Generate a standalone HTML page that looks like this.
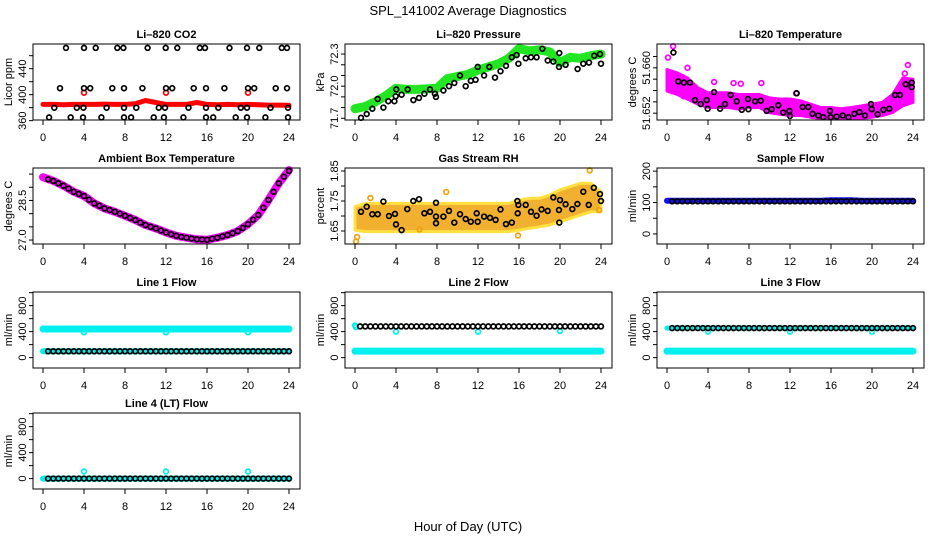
<!DOCTYPE html>
<html><head><meta charset="utf-8">
<style>
html,body{margin:0;padding:0;background:#fff;}
svg{display:block;font-family:"Liberation Sans",Arial,sans-serif;}
</style></head>
<body>
<svg id="chart" width="936" height="540" viewBox="0 0 936 540">
<text x="468" y="15" font-size="13" text-anchor="middle">SPL_141002  Average Diagnostics</text>
<text x="468" y="531" font-size="13" text-anchor="middle">Hour of Day (UTC)</text>
</svg>
<script>
// ---------- data ----------
const hourly = [0,1,2,3,4,5,6,7,8,9,10,11,12,13,14,15,16,17,18,19,20,21,22,23,24];
const halfHours = [0.5,1,1.5,2,2.5,3,3.5,4,4.5,5,5.5,6,6.5,7,7.5,8,8.5,9,9.5,10,10.5,11,11.5,12,12.5,13,13.5,14,14.5,15,15.5,16,16.5,17,17.5,18,18.5,19,19.5,20,20.5,21,21.5,22,22.5,23,23.5,24];
const xTicks = [0,4,8,12,16,20,24];

// CO2
const co2Red = [385,385,384.5,385,385,385,385.5,385,385,386,391,388,385,385,385,388,385,384.5,385,384.5,385,384.5,384,384,383.5];
const co2RedObsHours = [4,12,20];
const co2RedObsValues = [403,403,403];
const co2BlackHours = [2.24,4.0,5.14,7.25,7.84,10.2,11.97,13.1,15.3,15.8,18.2,19.9,21.1,23.3,23.8,
 1.66,4.0,4.6,6.76,7.9,9.7,12.0,12.6,14.7,15.9,17.7,20.0,20.6,22.7,23.8,
 1.1,3.3,3.94,6.2,7.9,9.1,11.3,11.9,14.2,15.9,17.1,19.3,19.9,22.2,23.9,
 0.6,2.7,3.9,5.7,7.9,8.6,10.8,11.8,13.7,15.9,16.6,18.8,19.9,21.7,23.9];
const co2BlackValues = [472,472,472,472,472,472,472,472,472,472,472,472,472,472,472,
 410,410,410,410,410,410,410,410,410,410,410,410,410,410,410,
 380,380,380,380,380,380,380,380,380,380,380,380,380,380,380,
 365,365,365,365,365,365,365,365,365,365,365,365,365,365,365];

// Pressure
const presGreen = [71.79,71.81,71.855,71.91,71.98,71.97,71.97,71.975,71.98,72.07,72.09,72.11,72.15,72.18,72.21,72.26,72.35,72.33,72.34,72.32,72.22,72.27,72.26,72.285,72.3];
const presObsHours = [0.59,1.14,1.69,2.21,2.77,3.25,3.84,3.97,4.03,4.55,5.14,5.7,6.24,6.77,7.32,7.8,7.9,8.62,9.17,9.69,10.24,10.8,11.3,11.77,11.97,12.6,13.1,13.66,14.2,14.73,15.3,15.77,15.94,16.65,17.17,17.72,18.28,18.8,19.35,19.9,19.93,20.55,21.72,22.27,22.83,23.35,23.9,24.0];
const presObsValues = [71.705,71.74,71.79,71.88,71.80,71.86,71.86,71.905,71.97,71.92,71.97,71.87,71.89,71.93,71.97,71.93,71.90,71.96,72.00,72.03,72.10,72.00,72.05,72.06,72.18,72.10,72.18,72.08,72.14,72.19,72.27,72.29,72.21,72.26,72.27,72.27,72.35,72.24,72.23,72.18,72.31,72.20,72.16,72.21,72.22,72.285,72.30,72.21];

// Li-820 temperature
const tempLo = [51.6559,51.6553,51.6545,51.6536,51.6530,51.6530,51.6530,51.6527,51.6530,51.6530,51.6521,51.6518,51.6516,51.6516,51.6513,51.6511,51.6511,51.6511,51.6511,51.6511,51.6513,51.6516,51.6521,51.6533,51.6539];
const tempHi = [51.6597,51.6591,51.6582,51.6565,51.6556,51.6556,51.6556,51.6553,51.6553,51.6553,51.6547,51.6545,51.6545,51.6542,51.6536,51.6530,51.6530,51.6528,51.6530,51.6533,51.6536,51.6539,51.6553,51.6582,51.6580];
const tempOutHours = [0.1,0.6,2.0,4.6,6.5,7.2,9.2,23.5,1.6,12.6,23.2,0.3];
const tempOutValues = [51.6618,51.6638,51.6600,51.6575,51.6573,51.6572,51.6573,51.6605,51.6550,51.6555,51.6590,51.6585];
const tempObsHours = [0.62,1.1,1.66,2.24,2.73,3.29,3.87,3.97,4.6,5.18,5.66,6.21,6.8,7.3,7.9,7.94,8.6,9.14,9.72,10.21,10.86,11.35,11.94,12.0,12.65,13.24,13.79,14.2,14.77,15.25,15.9,15.97,16.55,17.14,17.7,18.28,18.77,19.32,19.9,19.97,20.55,21.11,21.69,22.25,22.73,23.29,23.87,23.87];
const tempObsValues = [51.6627,51.6576,51.6574,51.6574,51.6543,51.6536,51.6543,51.6528,51.6557,51.6528,51.6536,51.6552,51.6541,51.6526,51.6545,51.6527,51.6541,51.6542,51.6524,51.6527,51.6534,51.6521,51.6524,51.6515,51.6555,51.6531,51.6531,51.6519,51.6516,51.6513,51.6524,51.6513,51.6514,51.6516,51.6513,51.6519,51.6522,51.6516,51.6536,51.6527,51.6518,51.6526,51.6528,51.6552,51.6552,51.6571,51.6574,51.6566];

// Ambient box temperature
const ambTrace = [29.38,29.24,29.06,28.83,28.67,28.39,28.20,28.07,27.92,27.76,27.57,27.44,27.29,27.16,27.09,27.03,27.01,27.09,27.19,27.34,27.60,27.95,28.52,29.15,29.65];
const ambObs = [29.30,29.24,29.15,29.06,28.95,28.83,28.75,28.67,28.53,28.39,28.30,28.20,28.14,28.07,28.00,27.92,27.84,27.76,27.66,27.57,27.50,27.44,27.36,27.29,27.22,27.16,27.12,27.09,27.06,27.03,27.02,27.01,27.05,27.09,27.14,27.19,27.26,27.34,27.46,27.60,27.77,27.95,28.22,28.52,28.83,29.15,29.40,29.62];

// Gas stream RH
const rhLo = [1.653,1.648,1.648,1.648,1.648,1.648,1.648,1.648,1.648,1.648,1.648,1.648,1.648,1.648,1.648,1.648,1.653,1.659,1.664,1.670,1.681,1.692,1.703,1.714,1.714];
const rhHi = [1.731,1.742,1.742,1.742,1.742,1.742,1.742,1.742,1.742,1.742,1.742,1.742,1.742,1.742,1.742,1.742,1.753,1.759,1.759,1.770,1.787,1.798,1.809,1.809,1.781];
const rhOutHours = [0.1,8.9,22.9,15.9,1.5,23.8,0.2,6.3];
const rhOutValues = [1.615,1.78,1.852,1.635,1.76,1.72,1.63,1.655];
const rhObsHours = [0.59,1.14,1.69,2.21,2.77,3.32,3.9,4.0,4.55,5.1,5.69,6.24,6.77,7.32,7.9,7.9,7.9,8.62,9.17,9.69,10.24,10.8,11.3,11.87,11.97,12.6,13.17,13.72,14.2,14.73,15.3,15.84,15.87,15.94,16.65,17.17,17.72,18.2,18.8,19.35,19.9,19.93,20.0,20.55,21.2,21.7,22.27,22.8,23.3,23.9,24.0];
const rhObsValues = [1.714,1.731,1.706,1.706,1.748,1.700,1.707,1.672,1.653,1.723,1.750,1.756,1.709,1.714,1.744,1.698,1.676,1.698,1.717,1.678,1.706,1.690,1.681,1.709,1.681,1.698,1.694,1.687,1.722,1.673,1.678,1.750,1.709,1.737,1.737,1.714,1.701,1.722,1.717,1.762,1.720,1.678,1.753,1.739,1.723,1.740,1.781,1.737,1.794,1.773,1.750];

// Sample flow
const sampleBand = [106,106,106,106,106,106,106,106,106,106,106,106,106,106,106,106,107,107,107,106,106,106,106,106,106];
const sampleObs = [104,104,104,104,104,104,104,104,104,104,104,104,104,104,104,104,104,104,104,104,104,104,104,104,104,104,104,104,104,104,104,104,104,104,104,104,104,104,104,104,104,104,104,104,104,104,104,104];

// Line flows
const line1Upper = [440,440,440,440,440,440,440,440,440,440,440,440,440,440,440,440,440,440,440,440,440,440,440,440,440];
const line1Lower = [97,97,97,97,97,97,97,97,97,97,97,97,97,97,97,97,97,97,97,97,97,97,97,97,97];
const line1Obs = [97,97,97,97,97,97,97,97,97,97,97,97,97,97,97,97,97,97,97,97,97,97,97,97,97,97,97,97,97,97,97,97,97,97,97,97,97,97,97,97,97,97,97,97,97,97,97,97];
const line1DipHours = [4,12,20];
const line1DipValues = [390,390,390];

const line2Lower = [100,100,100,100,100,100,100,100,100,100,100,100,100,100,100,100,100,100,100,100,100,100,100,100,100];
const line2Obs = [480,480,480,480,480,480,480,480,480,480,480,480,480,480,480,480,480,480,480,480,480,480,480,480,480,480,480,480,480,480,480,480,480,480,480,480,480,480,480,480,480,480,480,480,480,480,480,480];
const line2CyanHours = [0,0.1,4,12,20];
const line2CyanValues = [495,470,400,400,410];

const line3Upper = [455,455,455,455,455,455,455,455,455,455,455,455,455,455,455,455,455,455,455,455,455,455,455,455,455];
const line3Lower = [100,100,100,100,100,100,100,100,100,100,100,100,100,100,100,100,100,100,100,100,100,100,100,100,100];
const line3Obs = [455,455,455,455,455,455,455,455,455,455,455,455,455,455,455,455,455,455,455,455,455,455,455,455,455,455,455,455,455,455,455,455,455,455,455,455,455,455,455,455,455,455,455,455,455,455,455,455];
const line3CyanHours = [4,12,20];
const line3CyanValues = [400,400,400];

const line4Band = [0,0,0,0,0,0,0,0,0,0,0,0,0,0,0,0,0,0,0,0,0,0,0,0,0];
const line4Obs = [0,0,0,0,0,0,0,0,0,0,0,0,0,0,0,0,0,0,0,0,0,0,0,0,0,0,0,0,0,0,0,0,0,0,0,0,0,0,0,0,0,0,0,0,0,0,0,0];
const line4CyanHours = [4,12,20];
const line4CyanValues = [110,110,110];

// ---------- drawing ----------
const NS = "http://www.w3.org/2000/svg";
const svg = document.getElementById("chart");
const COLX0 = [43,355,667];
const ROWTOP = [44,168,292,413];
const H = 76, HSCALE = 10.25;

function mk(tag, attrs, parent){
  const e = document.createElementNS(NS, tag);
  for (const k in attrs) e.setAttribute(k, attrs[k]);
  (parent||svg).appendChild(e);
  return e;
}

function panel(col,row,name,title,ylab,dom,ticks,labels,fmt){
  const x0 = COLX0[col], top = ROWTOP[row], bot = top+H;
  const left = x0-10, right = x0+257;
  const g = mk("g",{});
  
  
  const sx = h => x0 + h*HSCALE;
  const sy = v => bot - (v-dom[0])/(dom[1]-dom[0])*H;
  const t = mk("text",{x:(left+right)/2,y:top-6,"font-size":11,"font-weight":"bold","text-anchor":"middle"},g);
  t.textContent = title;
  
  
  const yl = mk("text",{x:0,y:0,"font-size":11,"text-anchor":"middle",transform:`translate(${left-21},${(top+bot)/2}) rotate(-90)`},g);
  yl.textContent = ylab;
  
  
  const plot = mk("g",{},g);
  
  
  const ya = mk("g",{},g);
  
  
  ticks.forEach(v=>{
    const y = sy(v);
    mk("line",{x1:left-4,x2:left,y1:y,y2:y,stroke:"#000","stroke-width":1},ya);
  });
  labels.forEach(v=>{
    const lt = mk("text",{x:0,y:0,"font-size":11,"text-anchor":"middle",transform:`translate(${left-7},${sy(v)}) rotate(-90)`},ya);
    lt.textContent = fmt(v);
  });
  const xa = mk("g",{},g);
  
  
  xTicks.forEach(h=>{
    mk("line",{x1:sx(h),x2:sx(h),y1:bot,y2:bot+5,stroke:"#000","stroke-width":1},xa);
    const xt = mk("text",{x:sx(h),y:bot+21,"font-size":11,"text-anchor":"middle"},xa);
    xt.textContent = h;
  });
  const box = mk("rect",{x:left,y:top,width:right-left,height:H,fill:"none",stroke:"#000","stroke-width":1},g);
  
  
  return {sx,sy,g:plot};
}

function band(p,hours,vals,color,w,name){
  const pts = hours.map((h,i)=>p.sx(h).toFixed(1)+","+p.sy(vals[i]).toFixed(1)).join(" ");
  const e = mk("polyline",{points:pts,fill:"none",stroke:color,"stroke-width":w,"stroke-linecap":"round","stroke-linejoin":"round"},p.g);
  
  
}
function ribbon(p,hours,lo,hi,fill,stroke,sw,name){
  const a = hours.map((h,i)=>p.sx(h).toFixed(1)+","+p.sy(hi[i]).toFixed(1));
  const b = hours.map((h,i)=>p.sx(h).toFixed(1)+","+p.sy(lo[i]).toFixed(1)).reverse();
  const e = mk("polygon",{points:a.concat(b).join(" "),fill:fill,stroke:stroke,"stroke-width":sw,"stroke-linejoin":"round"},p.g);
  
  
}
function pts(p,hours,vals,color,name,r){
  const gg = mk("g",{},p.g);
  
  
  hours.forEach((h,i)=>{
    const c = mk("circle",{cx:p.sx(h).toFixed(1),cy:p.sy(vals[i]).toFixed(1),r:r||2.4,fill:"none",stroke:color,"stroke-width":1.7},gg);
    
    
  });
}
const fInt = v => String(v);
const f1 = v => v.toFixed(1);
const f2 = v => v.toFixed(2);
const f3 = v => v.toFixed(3);

// Panel 1: CO2
let p = panel(0,0,"co2","Li–820 CO2","Licor ppm",[361,478],[360,380,400,420,440,460],[360,400,440],fInt);
band(p,hourly,co2Red,"#ff0000",5,"co2-red-trace");
pts(p,co2RedObsHours,co2RedObsValues,"#ff0000","co2-red-points");
pts(p,co2BlackHours,co2BlackValues,"#000","co2-black-points");

// Panel 2: Pressure
p = panel(1,0,"pressure","Li–820 Pressure","kPa",[71.684,72.394],[71.7,71.8,71.9,72.0,72.1,72.2,72.3],[71.7,72.0,72.3],f1);
band(p,hourly,presGreen,"#22e622",9,"pressure-green-trace");
pts(p,presObsHours,presObsValues,"#000","pressure-black-points");

// Panel 3: Li-820 temperature
p = panel(2,0,"li820-temp","Li–820 Temperature","degrees C",[51.6508,51.6642],[51.652,51.654,51.656,51.658,51.660,51.662],[51.652,51.660],f3);
ribbon(p,hourly,tempLo,tempHi,"#ff00ff","#ff00ff",3,"temp-magenta-band");
pts(p,tempOutHours,tempOutValues,"#ff00ff","temp-magenta-points");
pts(p,tempObsHours,tempObsValues,"#000","temp-black-points");

// Panel 4: Ambient
p = panel(0,1,"ambient-temp","Ambient Box Temperature","degrees C",[26.85,29.73],[27.0,27.5,28.0,28.5,29.0,29.5],[27.0,28.5],f1);
band(p,hourly,ambTrace,"#ff00ff",8,"ambient-magenta-trace");
pts(p,halfHours,ambObs,"#000","ambient-black-points");

// Panel 5: RH
p = panel(1,1,"gas-rh","Gas Stream RH","percent",[1.6067,1.86],[1.65,1.70,1.75,1.80,1.85],[1.65,1.75,1.85],f2);
ribbon(p,hourly,rhLo,rhHi,"#f2b030","#ffe040",3,"rh-orange-band");
pts(p,rhOutHours,rhOutValues,"#f0a010","rh-orange-points");
pts(p,rhObsHours,rhObsValues,"#000","rh-black-points");

// Panel 6: Sample flow
p = panel(2,1,"sample-flow","Sample Flow","ml/min",[-32,210],[0,50,100,150,200],[0,100,200],fInt);
band(p,hourly,sampleBand,"#1010ff",6,"sample-blue-trace");
pts(p,halfHours,sampleObs,"#000","sample-black-points");

const flowTicks=[0,200,400,600,800,1000], flowLabels=[0,400,800], flowDom=[-160,1010];
// Line 1
p = panel(0,2,"line1-flow","Line 1 Flow","ml/min",flowDom,flowTicks,flowLabels,fInt);
band(p,hourly,line1Upper,"#00f0f0",7,"line1-cyan-upper");
band(p,hourly,line1Lower,"#00f0f0",6,"line1-cyan-lower");
pts(p,line1DipHours,line1DipValues,"#00f0f0","line1-cyan-points");
pts(p,halfHours,line1Obs,"#000","line1-black-points");
// Line 2
p = panel(1,2,"line2-flow","Line 2 Flow","ml/min",flowDom,flowTicks,flowLabels,fInt);
band(p,hourly,line2Lower,"#00f0f0",7,"line2-cyan-lower");
pts(p,line2CyanHours,line2CyanValues,"#00f0f0","line2-cyan-points");
pts(p,halfHours,line2Obs,"#000","line2-black-points");
// Line 3
p = panel(2,2,"line3-flow","Line 3 Flow","ml/min",flowDom,flowTicks,flowLabels,fInt);
band(p,hourly,line3Upper,"#00f0f0",5,"line3-cyan-upper");
band(p,hourly,line3Lower,"#00f0f0",7,"line3-cyan-lower");
pts(p,line3CyanHours,line3CyanValues,"#00f0f0","line3-cyan-points");
pts(p,halfHours,line3Obs,"#000","line3-black-points");
// Line 4
p = panel(0,3,"line4-flow","Line 4 (LT) Flow","ml/min",flowDom,flowTicks,flowLabels,fInt);
band(p,hourly,line4Band,"#00f0f0",6,"line4-cyan-trace");
pts(p,line4CyanHours,line4CyanValues,"#00f0f0","line4-cyan-points");
pts(p,halfHours,line4Obs,"#000","line4-black-points");
</script>
</body></html>
